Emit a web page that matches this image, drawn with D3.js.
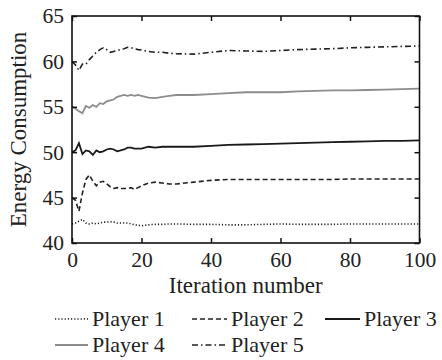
<!DOCTYPE html>
<html>
<head>
<meta charset="utf-8">
<script src="https://cdn.jsdelivr.net/npm/d3@7"></script>
<style>
  body { margin: 0; background: #fff; }
  svg { display: block; }
  svg text { font-family: "Liberation Serif", "Times New Roman", Times, serif !important; fill: #222; }
</style>
</head>
<body>
<div class="chart-container"></div>
<script>
const iterations = [0,1,2,3,4,5,6,7,8,9,10,11,12,13,14,15,16,17,18,19,20,22,24,26,28,30,35,40,45,50,55,60,65,70,75,80,85,90,95,100];

const player1 = [42.1,42.2,42.4,42.6,42.2,42.1,42.2,42.1,42.2,42.3,42.3,42.35,42.3,42.2,42.2,42.2,42.2,42.1,42.0,41.95,41.9,42.0,42.05,42.05,42.1,42.1,42.05,42.05,42.0,42.0,42.05,42.1,42.05,42.05,42.05,42.1,42.1,42.1,42.1,42.1];
const player2 = [45,44.7,43.5,45.5,47,47.5,46.8,46.3,46.7,46.8,46.5,46.2,46.0,46.1,46.0,46.0,46.0,46.1,45.9,46.1,46.3,46.6,46.7,46.6,46.5,46.5,46.7,46.9,47.0,47.0,47.0,47.0,47.0,47.0,47.0,47.05,47.05,47.05,47.05,47.05];
const player3 = [50,50.2,51.0,49.8,50.2,50.1,49.7,50.2,50.0,50.1,50.3,50.4,50.3,50.1,50.2,50.3,50.5,50.5,50.4,50.4,50.4,50.6,50.5,50.6,50.6,50.6,50.6,50.7,50.8,50.85,50.9,50.95,51.0,51.05,51.1,51.15,51.2,51.25,51.25,51.3];
const player4 = [55,54.8,54.5,54.3,55.1,54.9,55.2,55.0,55.4,55.3,55.6,55.7,55.8,56.1,56.2,56.3,56.2,56.3,56.2,56.3,56.2,56.0,55.95,56.1,56.2,56.3,56.3,56.4,56.5,56.6,56.6,56.6,56.7,56.75,56.8,56.8,56.85,56.9,56.95,57.0];
const player5 = [60,59.6,59.0,59.7,59.7,60.2,60.6,61.0,61.3,61.5,61.3,61.0,61.1,61.2,61.3,61.4,61.55,61.5,61.4,61.3,61.25,61.1,61.0,61.0,60.9,60.85,60.8,61.0,61.2,61.15,61.1,61.2,61.3,61.35,61.4,61.5,61.55,61.6,61.65,61.7];

const seriesNames = ['Player 1', 'Player 2', 'Player 3', 'Player 4', 'Player 5'];
const xTicks = [0, 20, 40, 60, 80, 100];
const yTicks = [40, 45, 50, 55, 60, 65];

const width = 442, height = 360;
const margin = { top: 16, right: 22.5, bottom: 117, left: 72 };

const styles = [
    { color: '#222', dash: '1.2,2', w: 1.6 },
    { color: '#222', dash: '5,3', w: 1.6 },
    { color: '#1a1a1a', dash: null, w: 1.8 },
    { color: '#8c8c8c', dash: null, w: 1.8 },
    { color: '#222', dash: '6,3,1.5,3', w: 1.6 }
];

const svg = d3.select('.chart-container')
    .append('svg')
    .attr('width', width)
    .attr('height', height);

const x = d3.scaleLinear().domain([0, 100]).range([margin.left, width - margin.right]);
const y = d3.scaleLinear().domain([40, 65]).range([height - margin.bottom, margin.top]);

// lines
const allSeries = [player1, player2, player3, player4, player5];
const line = d3.line()
    .x((d, i) => x(iterations[i]))
    .y(d => y(d));

allSeries.forEach((vals, k) => {
    svg.append('path')
        .datum(vals)
        .attr('fill', 'none')
        .attr('stroke', styles[k].color)
        .attr('stroke-width', styles[k].w)
        .attr('stroke-dasharray', styles[k].dash)
        .attr('d', line);
});

// axes with inward ticks, box around
const tickLen = 5;
svg.append('g')
    .attr('transform', `translate(0,${y(40)})`)
    .call(d3.axisBottom(x).tickValues(xTicks).tickSizeInner(-tickLen).tickSizeOuter(0).tickPadding(9))
    .call(g => g.select('.domain').remove())
    .call(g => g.selectAll('text').attr('font-size', 21.5));

svg.append('g')
    .attr('transform', `translate(0,${y(65)})`)
    .call(d3.axisTop(x).tickValues(xTicks).tickSizeInner(-tickLen).tickSizeOuter(0).tickFormat(''))
    .call(g => g.select('.domain').remove());

svg.append('g')
    .attr('transform', `translate(${x(0)},0)`)
    .call(d3.axisLeft(y).tickValues(yTicks).tickSizeInner(-tickLen).tickSizeOuter(0).tickPadding(8))
    .call(g => g.select('.domain').remove())
    .call(g => g.selectAll('text').attr('font-size', 21.5));

svg.append('g')
    .attr('transform', `translate(${x(100)},0)`)
    .call(d3.axisRight(y).tickValues(yTicks).tickSizeInner(-tickLen).tickSizeOuter(0).tickFormat(''))
    .call(g => g.select('.domain').remove());

svg.selectAll('.tick line').attr('stroke', '#111').attr('stroke-width', 1.5);

svg.append('rect')
    .attr('x', x(0))
    .attr('y', y(65))
    .attr('width', x(100) - x(0))
    .attr('height', y(40) - y(65))
    .attr('fill', 'none')
    .attr('stroke', '#111')
    .attr('stroke-width', 1.6);

// axis titles
svg.append('text')
    .attr('x', (x(0) + x(100)) / 2)
    .attr('y', 293)
    .attr('text-anchor', 'middle')
    .attr('font-size', 23)
    .text('Iteration number');

svg.append('text')
    .attr('transform', `translate(26,${(y(40) + y(65)) / 2}) rotate(-90)`)
    .attr('text-anchor', 'middle')
    .attr('font-size', 23)
    .text('Energy Consumption');

// legend
const legendPos = [
    { x0: 55, x1: 88, row: 0 },
    { x0: 192, x1: 227, row: 0 },
    { x0: 325, x1: 360, row: 0 },
    { x0: 55, x1: 88, row: 1 },
    { x0: 192, x1: 227, row: 1 }
];
const rowY = [319, 345];

seriesNames.forEach((name, k) => {
    const p = legendPos[k];
    const ly = rowY[p.row];
    svg.append('line')
        .attr('x1', p.x0).attr('x2', p.x1)
        .attr('y1', ly).attr('y2', ly)
        .attr('stroke', styles[k].color)
        .attr('stroke-width', styles[k].w)
        .attr('stroke-dasharray', styles[k].dash);
    svg.append('text')
        .attr('x', p.x1 + 4)
        .attr('y', ly + 7)
        .attr('font-size', 22)
        .text(name);
});
</script>
</body>
</html>
